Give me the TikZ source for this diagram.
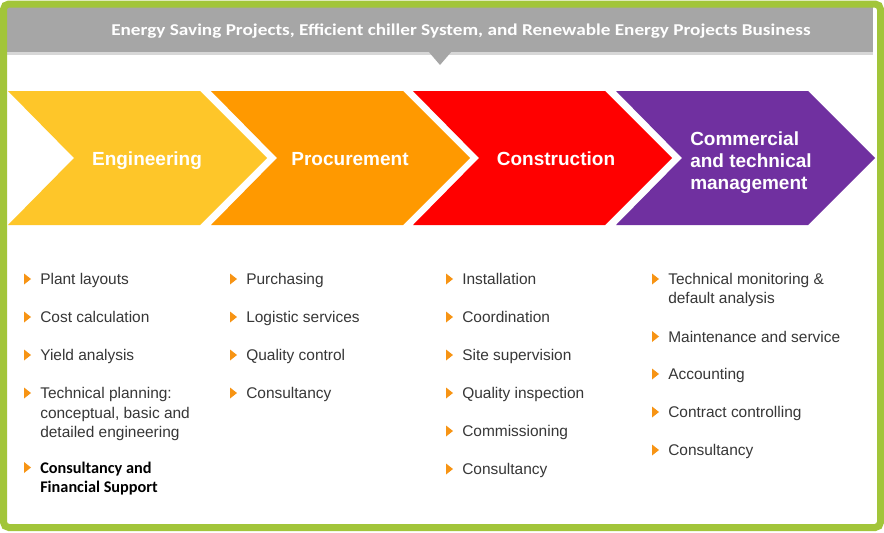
\documentclass[tikz,border=0pt]{standalone}
\usepackage{fontspec}
\setmainfont{Liberation Sans}
\newfontfamily\calib{Carlito}
\definecolor{frameg}{RGB}{162,197,58}
\definecolor{barg}{RGB}{166,166,166}
\definecolor{shadowg}{RGB}{215,215,215}
\definecolor{cyel}{RGB}{254,198,41}
\definecolor{cora}{RGB}{255,153,0}
\definecolor{cred}{RGB}{255,0,0}
\definecolor{cpur}{RGB}{112,48,160}
\definecolor{txtg}{RGB}{55,55,55}
\definecolor{bulo}{RGB}{247,148,20}
\tikzset{
  itm/.style={inner sep=0pt, text=txtg, font=\fontsize{11.6}{14}\selectfont},
  bitm/.style={inner sep=0pt, text=black, font=\calib\bfseries\fontsize{12.2}{14}\selectfont},
  chevlabel/.style={inner sep=0pt, text=white, font=\bfseries\fontsize{14.25}{16.5}\selectfont},
  bul/.style={fill=bulo},
}
\newcommand\bitem[5][itm]{%
  \fill[bul] (#3-16,#4-5.5) -- ++(7,5.5) -- ++(-7,5.5) -- cycle;
  \node[#1, anchor=base west] (#2) at (#3,#4+5.5) {#5};}
\newcommand\citem[5][itm]{%
  \node[#1, anchor=base west] (#2) at (#3,#4+5.5) {#5};}
\newcommand\chev[2]{% x of top-left, colour
  \fill[#2] (#1,91) -- ++(192,0) -- ++(67,67) -- ++(-67,67) -- ++(-192,0) -- ++(66,-67) -- cycle;}
\begin{document}
\begin{tikzpicture}[x=0.75pt,y=-0.75pt]
\useasboundingbox (0,0) rectangle (884,532);
\fill[white] (0,0) rectangle (884,532);
% gray title bar
\fill[shadowg] (7,50) rectangle (873,55);
\fill[barg] (7,7) rectangle (873,52);
\fill[barg] (428,51) -- (452,51) -- (440,65) -- cycle;
\node[anchor=base west, inner sep=0pt, text=white, font=\calib\bfseries\fontsize{12.4}{14}\selectfont] (title) at (111,35.5)
  {\scalebox{1.163}[1]{Energy Saving Projects, Efficient chiller System, and Renewable Energy Projects Business}};
% chevrons
\chev{8}{cyel}
\chev{211}{cora}
\chev{413}{cred}
\chev{616}{cpur}
\node[chevlabel, anchor=base] (eng) at (147,165.5) {Engineering};
\node[chevlabel, anchor=base] (proc) at (350,165.5) {Procurement};
\node[chevlabel, anchor=base] (cons) at (556,165.5) {Construction};
\node[chevlabel, anchor=base west] (com1) at (690,145) {Commercial};
\node[chevlabel, anchor=base west] (com2) at (690,167) {and technical};
\node[chevlabel, anchor=base west] (com3) at (690,189) {management};
% column 1
\bitem{a1}{40}{279}{Plant layouts}
\bitem{a2}{40}{317}{Cost calculation}
\bitem{a3}{40}{355}{Yield analysis}
\bitem{a4}{40}{393}{Technical planning:}
\citem{a4b}{40}{412.5}{conceptual, basic and}
\citem{a4c}{40}{432}{detailed engineering}
\bitem[bitm]{a5}{40}{467.5}{Consultancy and}
\citem[bitm]{a5b}{40}{487}{Financial Support}
% column 2
\bitem{b1}{246}{279}{Purchasing}
\bitem{b2}{246}{317}{Logistic services}
\bitem{b3}{246}{355}{Quality control}
\bitem{b4}{246}{393}{Consultancy}
% column 3
\bitem{c1}{462}{279}{Installation}
\bitem{c2}{462}{317}{Coordination}
\bitem{c3}{462}{355}{Site supervision}
\bitem{c4}{462}{393}{Quality inspection}
\bitem{c5}{462}{431}{Commissioning}
\bitem{c6}{462}{469}{Consultancy}
% column 4
\bitem{d1}{668}{279}{Technical monitoring \&}
\citem{d1b}{668}{298}{default analysis}
\bitem{d2}{668}{336.5}{Maintenance and service}
\bitem{d3}{668}{374}{Accounting}
\bitem{d4}{668}{412}{Contract controlling}
\bitem{d5}{668}{450}{Consultancy}
% green frame
\draw[frameg, line width=5.25pt, rounded corners=4pt] (3.5,4) rectangle (880.5,527.5);
\end{tikzpicture}
\end{document}
